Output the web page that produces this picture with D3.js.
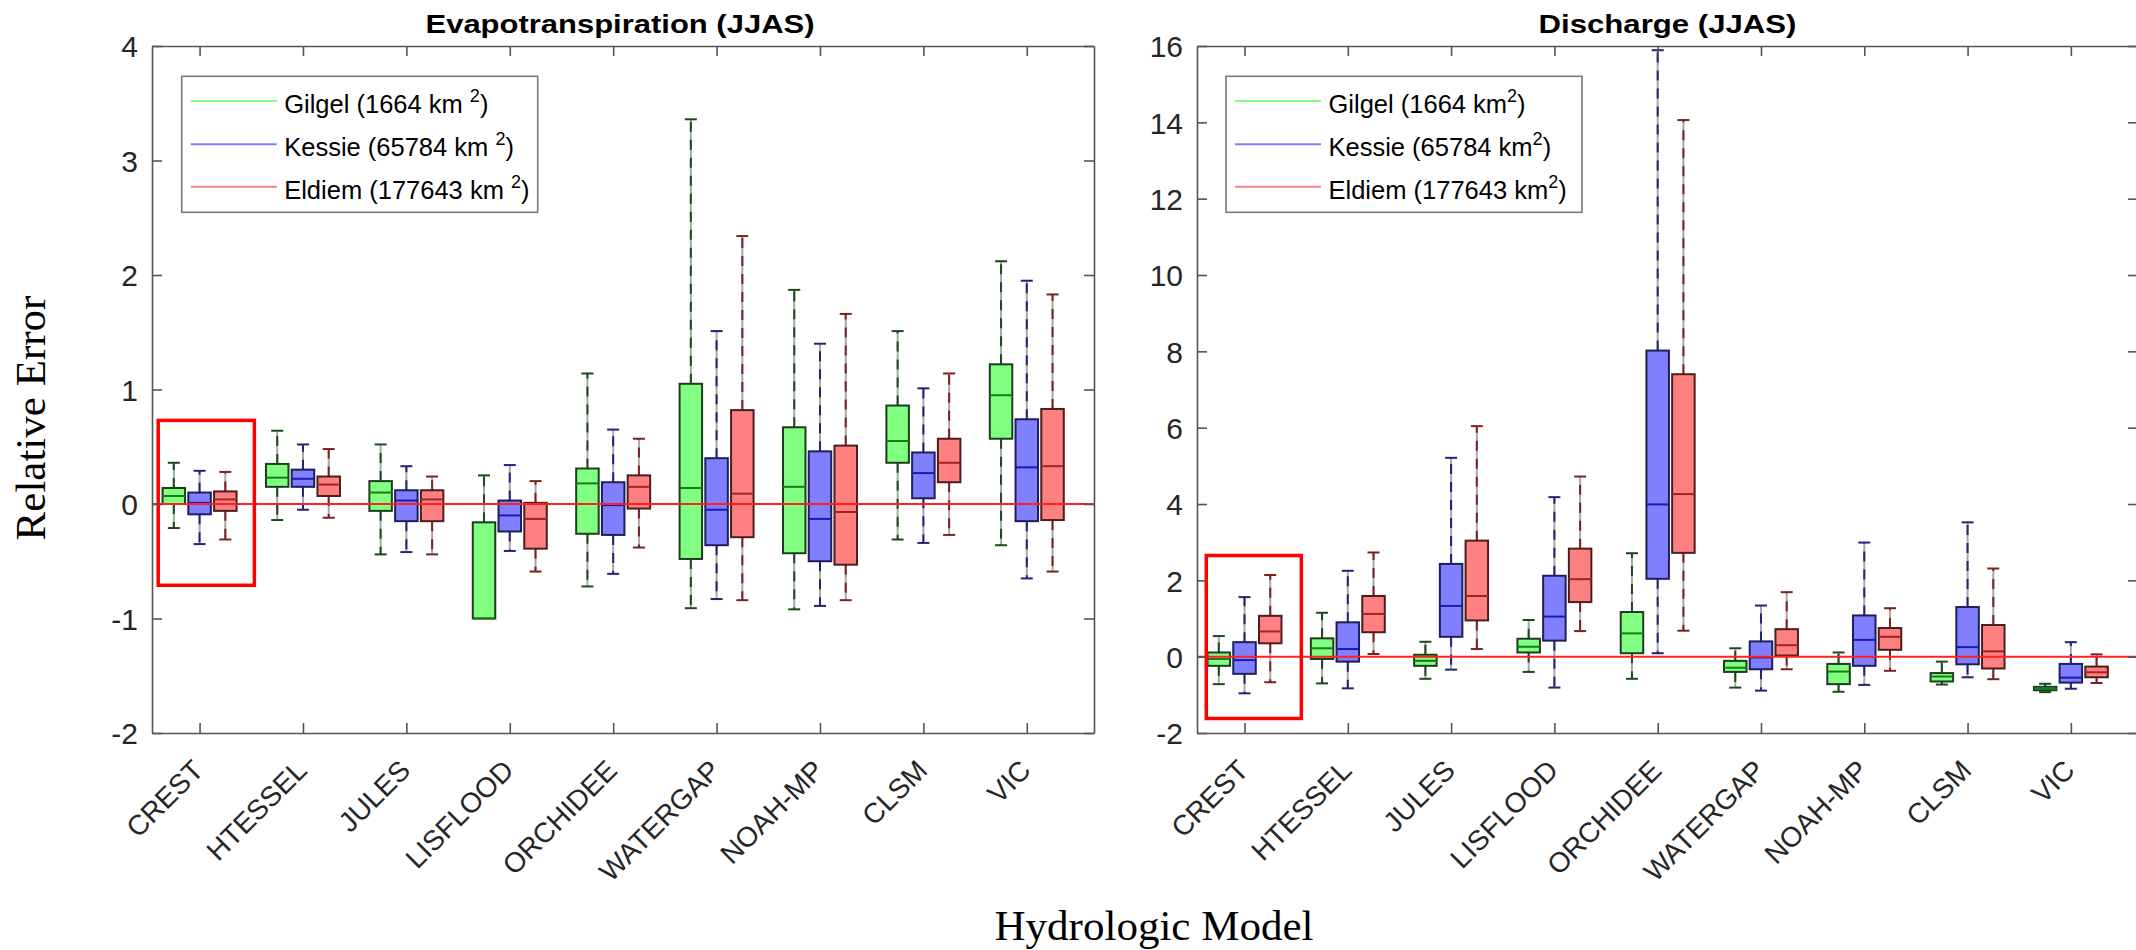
<!DOCTYPE html>
<html>
<head>
<meta charset="utf-8">
<script src="https://cdn.jsdelivr.net/npm/d3@7"></script>
<style>
  body { margin: 0; background: #ffffff; }
  svg { display: block; }
</style>
</head>
<body>
<svg id="chart" width="2136" height="950"></svg>
<script>
// Hydrologic models along the x axis
const models = ["CREST", "HTESSEL", "JULES", "LISFLOOD", "ORCHIDEE", "WATERGAP", "NOAH-MP", "CLSM", "VIC"];
// Basins (one box per basin and model)
const basinNames = ["Gilgel", "Kessie", "Eldiem"];
const basinAreas = ["1664", "65784", "177643"];

// Tick values for the two panels
const etTicks = [-2, -1, 0, 1, 2, 3, 4];
const qTicks = [-2, 0, 2, 4, 6, 8, 10, 12, 14, 16];

// Box statistics per model: [lower whisker, Q1, median, Q3, upper whisker]
// Evapotranspiration relative error (JJAS)
const etGilgel = [
  [-0.21, 0.00, 0.07, 0.14, 0.36],
  [-0.14, 0.15, 0.23, 0.35, 0.64],
  [-0.44, -0.06, 0.10, 0.20, 0.52],
  [-1.00, -1.00, -1.00, -0.16, 0.25],
  [-0.72, -0.26, 0.18, 0.31, 1.14],
  [-0.91, -0.48, 0.14, 1.05, 3.36],
  [-0.92, -0.43, 0.15, 0.67, 1.87],
  [-0.31, 0.36, 0.55, 0.86, 1.51],
  [-0.36, 0.57, 0.95, 1.22, 2.12]
];
const etKessie = [
  [-0.35, -0.09, 0.01, 0.10, 0.29],
  [-0.05, 0.15, 0.22, 0.30, 0.52],
  [-0.42, -0.15, 0.03, 0.12, 0.33],
  [-0.41, -0.24, -0.10, 0.03, 0.34],
  [-0.61, -0.27, -0.01, 0.19, 0.65],
  [-0.83, -0.36, -0.05, 0.40, 1.51],
  [-0.89, -0.50, -0.13, 0.46, 1.40],
  [-0.34, 0.05, 0.27, 0.45, 1.01],
  [-0.65, -0.15, 0.32, 0.74, 1.95]
];
const etEldiem = [
  [-0.31, -0.06, 0.04, 0.11, 0.28],
  [-0.12, 0.07, 0.17, 0.24, 0.48],
  [-0.44, -0.15, 0.04, 0.12, 0.24],
  [-0.59, -0.39, -0.13, 0.01, 0.20],
  [-0.38, -0.04, 0.15, 0.25, 0.57],
  [-0.84, -0.29, 0.09, 0.82, 2.34],
  [-0.84, -0.53, -0.07, 0.51, 1.66],
  [-0.27, 0.19, 0.36, 0.57, 1.14],
  [-0.59, -0.14, 0.33, 0.83, 1.83]
];

// Discharge relative error (JJAS)
const qGilgel = [
  [-0.72, -0.24, -0.06, 0.11, 0.54],
  [-0.70, -0.06, 0.22, 0.48, 1.15],
  [-0.58, -0.24, -0.11, 0.05, 0.39],
  [-0.40, 0.11, 0.26, 0.47, 0.96],
  [-0.58, 0.09, 0.61, 1.17, 2.71],
  [-0.81, -0.40, -0.29, -0.11, 0.22],
  [-0.92, -0.72, -0.39, -0.19, 0.11],
  [-0.73, -0.65, -0.52, -0.43, -0.13],
  [-0.93, -0.88, -0.84, -0.79, -0.71]
];
const qKessie = [
  [-0.96, -0.45, -0.09, 0.38, 1.56],
  [-0.83, -0.13, 0.20, 0.90, 2.25],
  [-0.34, 0.52, 1.33, 2.43, 5.21],
  [-0.81, 0.42, 1.05, 2.12, 4.18],
  [0.09, 2.04, 3.99, 8.02, 15.89],
  [-0.89, -0.33, -0.02, 0.40, 1.34],
  [-0.74, -0.24, 0.44, 1.08, 2.99],
  [-0.54, -0.20, 0.25, 1.30, 3.52],
  [-0.84, -0.68, -0.55, -0.19, 0.38]
];
const qEldiem = [
  [-0.67, 0.35, 0.66, 1.07, 2.14],
  [0.07, 0.64, 1.12, 1.59, 2.73],
  [0.20, 0.95, 1.59, 3.04, 6.04],
  [0.67, 1.43, 2.03, 2.83, 4.72],
  [0.68, 2.72, 4.26, 7.40, 14.06],
  [-0.33, 0.03, 0.30, 0.72, 1.69],
  [-0.37, 0.18, 0.52, 0.75, 1.27],
  [-0.59, -0.31, 0.14, 0.83, 2.31],
  [-0.69, -0.54, -0.41, -0.26, 0.06]
];

// Per-basin styling
const fillColors = ["#80ff80", "#8080ff", "#ff8080"];
const edgeColors = ["#1e3c1e", "#1e1e5a", "#4b1e1e"];
const medianColors = ["#1a7a1a", "#1a1ab0", "#a02424"];
const whiskerColors = ["#1a4a1a", "#22227a", "#7a2222"];

const sansFont = "'Liberation Sans', Arial, Helvetica, sans-serif";
const serifFont = "'Liberation Serif', 'Times New Roman', serif";
const axisColor = "#555555";
const textColor = "#262626";

const svg = d3.select("#chart");

function drawPanel(cfg) {
  const x = d3.scaleLinear().domain([-0.46, 8.65]).range([cfg.left, cfg.right]);
  const y = d3.scaleLinear().domain(cfg.yDomain).range([cfg.bottom, cfg.top]);
  const g = svg.append("g");

  const offsets = [-0.249, 0, 0.249];
  const boxHalf = 11.25;
  const capHalf = 6;

  // boxes for each basin
  cfg.series.forEach((rows, s) => {
    const grp = g.append("g");
    const item = grp.selectAll("g.box")
      .data(rows)
      .join("g")
      .attr("class", "box")
      .attr("transform", (d, i) => `translate(${x(i + offsets[s])},0)`);

    // whiskers: grey base with dark dashes on top
    const whiskers = d => {
      const w = [];
      if (d[4] > d[3]) w.push([d[3], d[4]]);
      if (d[0] < d[1]) w.push([d[1], d[0]]);
      return w;
    };
    item.selectAll("line.wbase").data(whiskers).join("line")
      .attr("class", "wbase")
      .attr("x1", 0).attr("x2", 0)
      .attr("y1", w => y(w[0])).attr("y2", w => y(w[1]))
      .attr("stroke", "#a8a8a8").attr("stroke-width", 2);
    item.selectAll("line.wdash").data(whiskers).join("line")
      .attr("class", "wdash")
      .attr("x1", 0).attr("x2", 0)
      .attr("y1", w => y(w[0])).attr("y2", w => y(w[1]))
      .attr("stroke", whiskerColors[s]).attr("stroke-width", 2)
      .attr("stroke-dasharray", "10,8");
    // whisker caps
    item.selectAll("line.cap").data(d => whiskers(d).map(w => w[1])).join("line")
      .attr("class", "cap")
      .attr("x1", -capHalf).attr("x2", capHalf)
      .attr("y1", v => y(v)).attr("y2", v => y(v))
      .attr("stroke", whiskerColors[s]).attr("stroke-width", 2);

    // interquartile box
    item.append("rect")
      .attr("x", -boxHalf)
      .attr("width", boxHalf * 2)
      .attr("y", d => y(d[3]))
      .attr("height", d => y(d[1]) - y(d[3]))
      .attr("fill", fillColors[s])
      .attr("stroke", edgeColors[s])
      .attr("stroke-width", 2);

    // median
    item.append("line")
      .attr("x1", -boxHalf).attr("x2", boxHalf)
      .attr("y1", d => y(d[2])).attr("y2", d => y(d[2]))
      .attr("stroke", medianColors[s]).attr("stroke-width", 2);
  });

  // zero reference line
  g.append("line")
    .attr("x1", cfg.left).attr("x2", cfg.right)
    .attr("y1", y(0)).attr("y2", y(0))
    .attr("stroke", "#ff2020").attr("stroke-width", 2);

  // highlight frame around the CREST group
  const h = cfg.highlight;
  g.append("rect")
    .attr("x", x(h[0])).attr("width", x(h[1]) - x(h[0]))
    .attr("y", y(h[3])).attr("height", y(h[2]) - y(h[3]))
    .attr("fill", "none").attr("stroke", "#ff0000").attr("stroke-width", 3.5);

  // axes (box on, ticks pointing inward)
  const styleAxis = sel => {
    sel.selectAll("path.domain").attr("stroke", axisColor).attr("stroke-width", 1.6);
    sel.selectAll(".tick line").attr("stroke", axisColor).attr("stroke-width", 1.6);
  };
  const yAxis = g.append("g")
    .attr("transform", `translate(${cfg.left},0)`)
    .call(d3.axisLeft(y).tickValues(cfg.ticks).tickFormat(d => String(d))
      .tickSizeInner(-10).tickSizeOuter(0).tickPadding(14));
  styleAxis(yAxis);
  yAxis.selectAll(".tick text")
    .attr("font-family", sansFont).attr("font-size", 30).attr("fill", textColor)
    .attr("dy", "0.36em");

  const yAxisR = g.append("g")
    .attr("transform", `translate(${cfg.right},0)`)
    .call(d3.axisRight(y).tickValues(cfg.ticks).tickFormat("")
      .tickSizeInner(-10).tickSizeOuter(0));
  styleAxis(yAxisR);

  const idx = d3.range(models.length);
  const xAxis = g.append("g")
    .attr("transform", `translate(0,${cfg.bottom})`)
    .call(d3.axisBottom(x).tickValues(idx).tickFormat(i => models[i])
      .tickSizeInner(-10).tickSizeOuter(0));
  styleAxis(xAxis);
  xAxis.selectAll(".tick text")
    .attr("font-family", sansFont).attr("font-size", 28).attr("fill", textColor)
    .attr("text-anchor", "end")
    .attr("y", 0).attr("dy", 0)
    .attr("transform", "translate(5,39) rotate(-45)");

  const xAxisT = g.append("g")
    .attr("transform", `translate(0,${cfg.top})`)
    .call(d3.axisTop(x).tickValues(idx).tickFormat("")
      .tickSizeInner(-10).tickSizeOuter(0));
  styleAxis(xAxisT);

  // panel title
  g.append("text")
    .attr("x", cfg.titleX).attr("y", 33)
    .attr("text-anchor", "middle")
    .attr("font-family", sansFont).attr("font-weight", "bold")
    .attr("font-size", 25.6).attr("fill", "#000")
    .attr("textLength", cfg.titleLen).attr("lengthAdjust", "spacingAndGlyphs")
    .text(cfg.title);

  // legend
  const lg = g.append("g");
  lg.append("rect")
    .attr("x", cfg.legend.x).attr("y", 76.3)
    .attr("width", 356).attr("height", 136)
    .attr("fill", "#ffffff").attr("stroke", "#7a7a7a").attr("stroke-width", 1.6);
  const rowsY = [101, 144.3, 186.7];
  basinNames.forEach((name, s) => {
    lg.append("line")
      .attr("x1", cfg.legend.x + 9).attr("x2", cfg.legend.x + 95)
      .attr("y1", rowsY[s]).attr("y2", rowsY[s])
      .attr("stroke", fillColors[s]).attr("stroke-width", 2);
    const t = lg.append("text")
      .attr("x", cfg.legend.x + 102.5).attr("y", rowsY[s] + 12)
      .attr("font-family", sansFont).attr("font-size", 25.5).attr("fill", "#000")
      .attr("xml:space", "preserve");
    t.append("tspan").text(`${name} (${basinAreas[s]} km${cfg.legend.gap}`);
    t.append("tspan").attr("font-size", 18).attr("dy", -11).text("2");
    t.append("tspan").attr("dy", 11).text(")");
  });
}

drawPanel({
  left: 152, right: 1094, top: 46, bottom: 733,
  yDomain: [-2, 4], ticks: etTicks,
  title: "Evapotranspiration (JJAS)", titleX: 620, titleLen: 389,
  series: [etGilgel, etKessie, etEldiem],
  legend: { x: 181.7, gap: "\u00a0" },
  highlight: [-0.40, 0.53, -0.71, 0.73]
});

drawPanel({
  left: 1197, right: 2138, top: 46, bottom: 733,
  yDomain: [-2, 16], ticks: qTicks,
  title: "Discharge (JJAS)", titleX: 1667.5, titleLen: 258,
  series: [qGilgel, qKessie, qEldiem],
  legend: { x: 1226, gap: "" },
  highlight: [-0.37, 0.55, -1.62, 2.65]
});

// shared axis labels
svg.append("text")
  .attr("transform", "translate(45,418) rotate(-90)")
  .attr("text-anchor", "middle")
  .attr("font-family", serifFont).attr("font-size", 43).attr("fill", "#000")
  .text("Relative Error");

svg.append("text")
  .attr("x", 1154).attr("y", 940)
  .attr("text-anchor", "middle")
  .attr("font-family", serifFont).attr("font-size", 43).attr("fill", "#000")
  .text("Hydrologic Model");
</script>
</body>
</html>
